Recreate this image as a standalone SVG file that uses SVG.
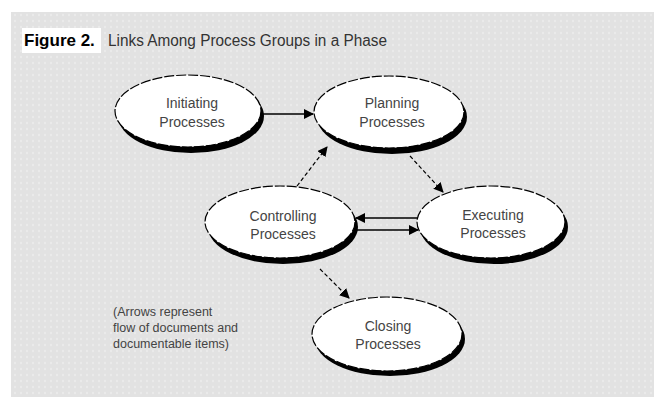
<svg xmlns="http://www.w3.org/2000/svg" width="654" height="397" viewBox="0 0 654 397">
  <defs>
    <marker id="ah" viewBox="0 0 10 10" refX="9" refY="5" markerWidth="10" markerHeight="10" markerUnits="userSpaceOnUse" orient="auto">
      <path d="M0,0 L10,5 L0,10 Z" fill="#000"/>
    </marker>
    <pattern id="bgp" width="6" height="6" patternUnits="userSpaceOnUse">
      <rect width="6" height="6" fill="#e2e2e2"/>
      <circle cx="3" cy="3" r="1.2" fill="#ebebeb"/>
    </pattern>
  </defs>
  <style>
    .shadow { fill: #000; }
    .body { fill: #fff; stroke: #000; stroke-width: 1.2; stroke-dasharray: 10 2; }
    .lbl { font-family: "Liberation Sans", Arial, sans-serif; font-size: 14px; fill: #444; text-anchor: middle; }
    .note { font-family: "Liberation Sans", Arial, sans-serif; font-size: 12.5px; fill: #444; }
    .solid { stroke: #000; stroke-width: 1.6; fill: none; marker-end: url(#ah); }
    .dash { stroke: #000; stroke-width: 1.2; fill: none; stroke-dasharray: 4 2.5; marker-end: url(#ah); }
  </style>
  <rect width="654" height="397" fill="#fff"/>
  <rect x="11" y="12" width="643" height="385" fill="url(#bgp)"/>

  <g id="title">
    <rect x="22" y="28" width="79" height="25" fill="#fff"/>
    <text x="24" y="46" font-family="'Liberation Sans', Arial, sans-serif" font-size="17" font-weight="bold" fill="#000">Figure 2.</text>
    <text x="108" y="46" font-family="'Liberation Sans', Arial, sans-serif" font-size="16" fill="#333" textLength="279" lengthAdjust="spacingAndGlyphs">Links Among Process Groups in a Phase</text>
  </g>

  <g id="connectors">
    <line class="solid" x1="263" y1="114" x2="313" y2="114"/>
    <line class="dash" x1="297" y1="186" x2="327" y2="147"/>
    <line class="dash" x1="410" y1="156" x2="443" y2="192"/>
    <line class="solid" x1="418" y1="218" x2="356" y2="218"/>
    <line class="solid" x1="357" y1="230" x2="418" y2="230"/>
    <line class="dash" x1="320" y1="269" x2="349" y2="298"/>
  </g>

  <g id="initiating">
    <ellipse class="shadow" cx="191" cy="116" rx="73" ry="37"/>
    <ellipse class="body" cx="188" cy="111" rx="73" ry="36"/>
    <text class="lbl" x="192" y="108">Initiating</text>
    <text class="lbl" x="192" y="127">Processes</text>
  </g>

  <g id="planning">
    <ellipse class="shadow" cx="392" cy="117" rx="75" ry="37"/>
    <ellipse class="body" cx="389" cy="112" rx="75" ry="36"/>
    <text class="lbl" x="392" y="108">Planning</text>
    <text class="lbl" x="392" y="127">Processes</text>
  </g>

  <g id="controlling">
    <ellipse class="shadow" cx="283" cy="227" rx="75" ry="37"/>
    <ellipse class="body" cx="280" cy="222" rx="75" ry="36"/>
    <text class="lbl" x="283" y="221">Controlling</text>
    <text class="lbl" x="283" y="239">Processes</text>
  </g>

  <g id="executing">
    <ellipse class="shadow" cx="494" cy="227" rx="74" ry="37"/>
    <ellipse class="body" cx="491" cy="222" rx="74" ry="36"/>
    <text class="lbl" x="493" y="220">Executing</text>
    <text class="lbl" x="493" y="238">Processes</text>
  </g>

  <g id="closing">
    <ellipse class="shadow" cx="390" cy="339" rx="75" ry="37"/>
    <ellipse class="body" cx="387" cy="334" rx="75" ry="37"/>
    <text class="lbl" x="388" y="331">Closing</text>
    <text class="lbl" x="388" y="349">Processes</text>
  </g>

  <g id="note">
    <text class="note" x="113" y="316">(Arrows represent</text>
    <text class="note" x="113" y="332">flow of documents and</text>
    <text class="note" x="113" y="348">documentable items)</text>
  </g>
</svg>
